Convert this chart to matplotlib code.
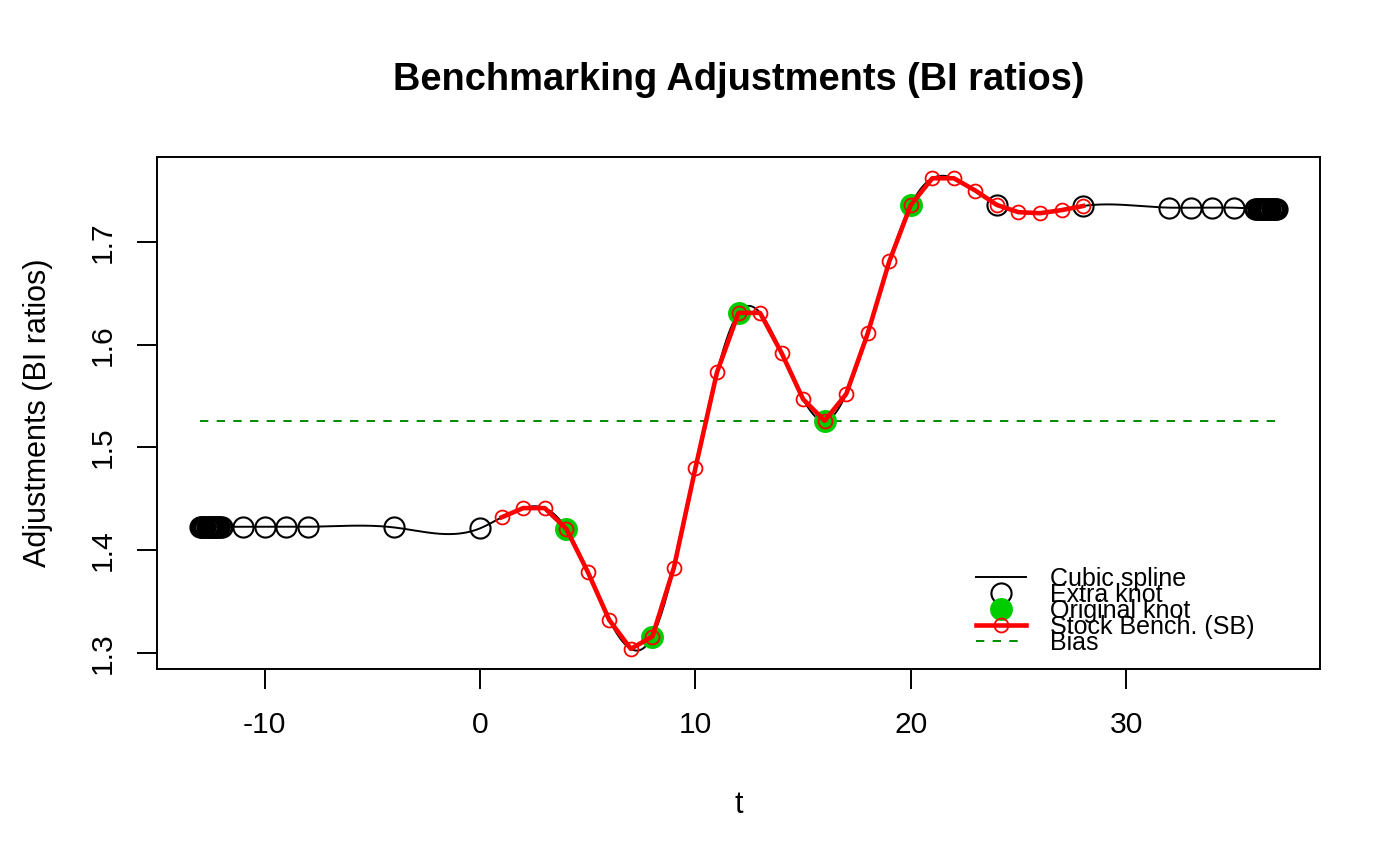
import numpy as np
import matplotlib
matplotlib.use("Agg")
import matplotlib.pyplot as plt

# ---------------- data ----------------
sb_t = [1, 2, 3, 4, 5, 6, 7, 8, 9, 10, 11, 12, 13, 14, 15, 16, 17, 18, 19, 20,
        21, 22, 23, 24, 25, 26, 27, 28]
sb_y = [1.432, 1.441, 1.441, 1.421, 1.379, 1.332, 1.304, 1.316, 1.383, 1.480,
        1.573, 1.631, 1.631, 1.592, 1.547, 1.526, 1.552, 1.611, 1.681, 1.736,
        1.762, 1.762, 1.750, 1.736, 1.729, 1.728, 1.731, 1.735]

orig_knot_t = [4, 8, 12, 16, 20]
orig_knot_y = [1.421, 1.316, 1.631, 1.526, 1.736]

extra_knot_t = [-13.0, -12.95, -12.9, -12.85, -12.8, -12.75, -12.7, -12.65, -12.6,
                -12.55, -12.5, -12.45, -12.4, -12.35, -12.3, -12.25, -12.2, -12.15,
                -12.1, -12.05, -12.0,
                -11, -10, -9, -8, -4, 0, 24, 28, 32, 33, 34, 35,
                36.0, 36.05, 36.1, 36.15, 36.2, 36.25, 36.3, 36.35, 36.4, 36.45, 36.5,
                36.55, 36.6, 36.65, 36.7, 36.75, 36.8, 36.85, 36.9, 36.95, 37.0]
extra_knot_y = [1.4228] * 21 + [1.4228, 1.4228, 1.4228, 1.4228, 1.4222, 1.4213,
                                1.736, 1.735, 1.7334, 1.7334, 1.7334, 1.7334] + [1.7325] * 21

bias_y = 1.526

x_ticks = [-10, 0, 10, 20, 30]
y_ticks = [1.3, 1.4, 1.5, 1.6, 1.7]

title = "Benchmarking Adjustments (BI ratios)"
x_label = "t"
y_label = "Adjustments (BI ratios)"
legend_labels = ["Cubic spline", "Extra knot", "Original knot", "Stock Bench. (SB)", "Bias"]


# ---------------- natural cubic spline ----------------
def natural_cubic_spline(x, y, xs):
    x = np.asarray(x, float)
    y = np.asarray(y, float)
    n = len(x)
    h = np.diff(x)
    A = np.zeros((n, n))
    r = np.zeros(n)
    A[0, 0] = 1.0
    A[-1, -1] = 1.0
    for i in range(1, n - 1):
        A[i, i - 1] = h[i - 1]
        A[i, i] = 2 * (h[i - 1] + h[i])
        A[i, i + 1] = h[i]
        r[i] = 3 * ((y[i + 1] - y[i]) / h[i] - (y[i] - y[i - 1]) / h[i - 1])
    c = np.linalg.solve(A, r)
    b = (y[1:] - y[:-1]) / h - h * (2 * c[:-1] + c[1:]) / 3
    d = (c[1:] - c[:-1]) / (3 * h)
    idx = np.clip(np.searchsorted(x, xs) - 1, 0, n - 2)
    dx = xs - x[idx]
    return y[idx] + b[idx] * dx + c[idx] * dx ** 2 + d[idx] * dx ** 3


nodes = {}
for t, v in zip(extra_knot_t, extra_knot_y):
    nodes[float(t)] = v
for t, v in zip(sb_t, sb_y):
    nodes[float(t)] = v
for t, v in zip(orig_knot_t, orig_knot_y):
    nodes[float(t)] = v
nx = np.array(sorted(nodes))
ny = np.array([nodes[k] for k in nx])
xs = np.linspace(nx.min(), nx.max(), 3000)
ys = natural_cubic_spline(nx, ny, xs)

# ---------------- plot ----------------
plt.rcParams["font.family"] = ["Liberation Sans", "DejaVu Sans"]
plt.rcParams["lines.scale_dashes"] = False

W, H = 1400, 866
fig = plt.figure(figsize=(W / 100, H / 100), dpi=100)
L, R, T, B = 157, 1320, 157, 669
ax = fig.add_axes([L / W, 1 - B / H, (R - L) / W, (B - T) / H])

h_spline, = ax.plot(xs, ys, color="black", lw=1.4, zorder=2)
h_extra, = ax.plot(extra_knot_t, extra_knot_y, ls="none", marker="o", ms=14.5,
                   mfc="none", mec="black", mew=1.5, zorder=3)
h_orig, = ax.plot(orig_knot_t, orig_knot_y, ls="none", marker="o", ms=16.5,
                  mfc="#00CD00", mec="#00CD00", mew=0, zorder=4)
h_sb, = ax.plot(sb_t, sb_y, color="#FF0000", lw=3.3, marker="o", ms=10.0,
                mfc="none", mec="#FF0000", mew=1.3, zorder=5)
t_all = list(extra_knot_t) + list(sb_t)
h_bias, = ax.plot([min(t_all), max(t_all)], [bias_y, bias_y], color="#008B00",
                  lw=1.4, ls=(0, (6, 6)), zorder=1)

ax.set_xlim(-15, 39)
ax.set_ylim(1.2844, 1.7827)
ax.set_xticks(x_ticks)
ax.set_xticklabels([str(v) for v in x_ticks])
ax.set_yticks(y_ticks)
ax.set_yticklabels([f"{v:.1f}" for v in y_ticks])
for s in ax.spines.values():
    s.set_linewidth(1.4)
ax.tick_params(axis="both", direction="out", length=14.4, width=1.4, labelsize=21.6)
ax.tick_params(axis="x", pad=15.6)
ax.tick_params(axis="y", pad=14.4)
for lab in ax.get_yticklabels():
    lab.set_rotation(90)
    lab.set_va("center")

fig.text((L + R) / 2 / W, 1 - 80 / H, title, ha="center", va="center",
         fontsize=27.4, fontweight="bold")
fig.text((L + R) / 2 / W, 1 - 805 / H, x_label, ha="center", va="center", fontsize=22)
fig.text(38 / W, 1 - ((T + B) / 2) / H, y_label, ha="center", va="center",
         rotation=90, fontsize=22)

leg = ax.legend([h_spline, h_extra, h_orig, h_sb, h_bias], legend_labels,
                loc="upper left", bbox_to_anchor=((976 - L) / (R - L), (B - 567) / (B - T)),
                frameon=False, fontsize=18, labelspacing=-0.32, handlelength=2.0,
                handletextpad=0.95, borderpad=0, borderaxespad=0, numpoints=1)

fig.savefig("out.png", dpi=100)
